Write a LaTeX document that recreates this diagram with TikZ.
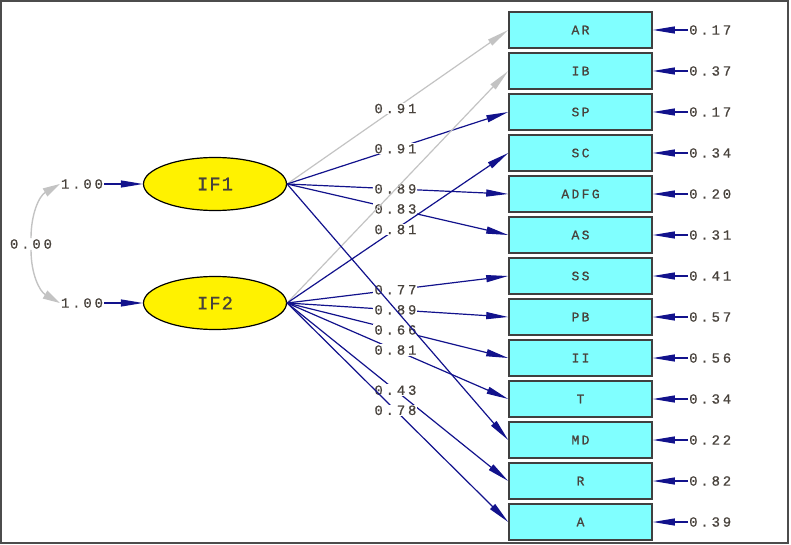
\documentclass[tikz,border=0pt]{standalone}
\usepackage{fontspec}
\usetikzlibrary{arrows.meta,shapes.geometric}
\newfontfamily\numfont[LetterSpace=20,FakeBold=0.6]{Liberation Mono}
\newfontfamily\boxfont[LetterSpace=18,FakeBold=0.8]{Liberation Mono}
\definecolor{pathblue}{RGB}{18,18,140}
\definecolor{fixgray}{RGB}{195,195,195}
\definecolor{boxcyan}{RGB}{128,255,255}
\definecolor{txtgray}{RGB}{72,66,60}
\tikzset{
	obs/.style={draw=black!75,line width=1.6pt,fill=boxcyan,minimum width=143pt,minimum height=36pt,inner sep=0pt,text=txtgray,font=\boxfont\fontsize{13}{13}\selectfont},
	lat/.style={ellipse,draw=black,line width=1.2pt,fill=yellow,minimum width=143pt,minimum height=53pt,inner sep=0pt,text=txtgray,font=\numfont\fontsize{19}{19}\selectfont\addfontfeature{LetterSpace=5}},
	num/.style={inner sep=1pt,text=txtgray,font=\numfont\fontsize{14}{14}\selectfont},
	lbl/.style={num,fill=white,pos=0.49},
	load/.style={draw=pathblue,line width=1.2pt,-{Triangle[length=22pt,width=7pt]}},
	fixed/.style={draw=fixgray,line width=1.2pt,-{Triangle[length=22pt,width=7pt]}},
	corr/.style={draw=fixgray,line width=1.4pt,-{Triangle[length=17pt,width=9pt]}}
}
\begin{document}
\begin{tikzpicture}[x=1pt,y=-1pt]
					\useasboundingbox (0,0) rectangle (791,545);
					\draw[black!70,line width=2pt] (1,1) rectangle (788,543);
					\node[lat] (IF1) at (215,184) {IF1};
					\node[lat] (IF2) at (215,303) {IF2};
					\node[num] (v1) at (82,184) {1.00};
					\node[num] (v2) at (82,303) {1.00};
					\node[num] (c12) at (31,244) {0.00};
					\node[obs] (AR) at (580.5,30) {AR};
					\node[obs] (IB) at (580.5,71) {IB};
					\node[obs] (SP) at (580.5,112) {SP};
					\node[obs] (SC) at (580.5,153) {SC};
					\node[obs] (ADFG) at (580.5,194) {ADFG};
					\node[obs] (AS) at (580.5,235) {AS};
					\node[obs] (SS) at (580.5,276) {SS};
					\node[obs] (PB) at (580.5,317) {PB};
					\node[obs] (II) at (580.5,358) {II};
					\node[obs] (T) at (580.5,399) {T};
					\node[obs] (MD) at (580.5,440) {MD};
					\node[obs] (R) at (580.5,481) {R};
					\node[obs] (A) at (580.5,522) {A};
					\node[num,anchor=west] (eAR) at (688,30) {0.17};
					\node[num,anchor=west] (eIB) at (688,71) {0.37};
					\node[num,anchor=west] (eSP) at (688,112) {0.17};
					\node[num,anchor=west] (eSC) at (688,153) {0.34};
					\node[num,anchor=west] (eADFG) at (688,194) {0.20};
					\node[num,anchor=west] (eAS) at (688,235) {0.31};
					\node[num,anchor=west] (eSS) at (688,276) {0.41};
					\node[num,anchor=west] (ePB) at (688,317) {0.57};
					\node[num,anchor=west] (eII) at (688,358) {0.56};
					\node[num,anchor=west] (eT) at (688,399) {0.34};
					\node[num,anchor=west] (eMD) at (688,440) {0.22};
					\node[num,anchor=west] (eR) at (688,481) {0.82};
					\node[num,anchor=west] (eA) at (688,522) {0.39};
					\draw[corr] (c12.north) to[out=90,in=210] (v1.west);
					\draw[corr] (c12.south) to[out=-90,in=150] (v2.west);
					\draw[load] (v1) -- (IF1);
					\draw[load] (v2) -- (IF2);
					\draw[fixed] (IF1.east) -- node[lbl]{0.91} (AR.west);
					\draw[load] (IF1.east) -- node[lbl]{0.91} (SP.west);
					\draw[load] (IF1.east) -- node[lbl]{0.89} (ADFG.west);
					\draw[load] (IF1.east) -- node[lbl]{0.83} (AS.west);
					\draw[fixed] (IF2.east) -- (IB.west);
					\draw[load] (IF2.east) -- node[lbl]{0.81} (SC.west);
					\draw[load] (IF2.east) -- node[lbl]{0.77} (SS.west);
					\draw[load] (IF2.east) -- node[lbl]{0.89} (PB.west);
					\draw[load] (IF2.east) -- node[lbl]{0.66} (II.west);
					\draw[load] (IF2.east) -- node[lbl]{0.81} (T.west);
					\draw[load] (IF2.east) -- node[lbl]{0.43} (R.west);
					\draw[load] (IF2.east) -- node[lbl]{0.78} (A.west);
					\draw[load] (IF1.east) -- (MD.west);
					\draw[load] (eAR) -- (AR);
					\draw[load] (eIB) -- (IB);
					\draw[load] (eSP) -- (SP);
					\draw[load] (eSC) -- (SC);
					\draw[load] (eADFG) -- (ADFG);
					\draw[load] (eAS) -- (AS);
					\draw[load] (eSS) -- (SS);
					\draw[load] (ePB) -- (PB);
					\draw[load] (eII) -- (II);
					\draw[load] (eT) -- (T);
					\draw[load] (eMD) -- (MD);
					\draw[load] (eR) -- (R);
					\draw[load] (eA) -- (A);
				\end{tikzpicture}
\end{document}
